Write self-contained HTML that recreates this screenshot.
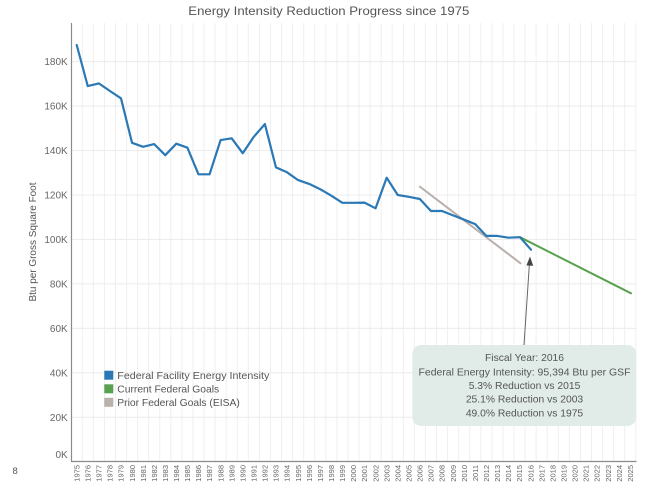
<!DOCTYPE html>
<html>
<head>
<meta charset="utf-8">
<style>
html,body{margin:0;padding:0;background:#fff;}
svg{display:block;font-family:"Liberation Sans",sans-serif;}
</style>
</head>
<body>
<svg width="650" height="485" viewBox="0 0 650 485" xmlns="http://www.w3.org/2000/svg">
<rect width="650" height="485" fill="#fff"/>
<!-- title -->
<text x="188.3" y="15" font-size="12" fill="#555" textLength="281" lengthAdjust="spacingAndGlyphs">Energy Intensity Reduction Progress since 1975</text>

<!-- vertical gridlines -->
<g stroke="#efefef" stroke-width="1">
<line x1="82.27" y1="23" x2="82.27" y2="461"/><line x1="93.34" y1="23" x2="93.34" y2="461"/><line x1="104.41" y1="23" x2="104.41" y2="461"/><line x1="115.48" y1="23" x2="115.48" y2="461"/><line x1="126.55" y1="23" x2="126.55" y2="461"/><line x1="137.62" y1="23" x2="137.62" y2="461"/><line x1="148.69" y1="23" x2="148.69" y2="461"/><line x1="159.76" y1="23" x2="159.76" y2="461"/><line x1="170.83" y1="23" x2="170.83" y2="461"/><line x1="181.9" y1="23" x2="181.9" y2="461"/><line x1="192.97" y1="23" x2="192.97" y2="461"/><line x1="204.04" y1="23" x2="204.04" y2="461"/><line x1="215.11" y1="23" x2="215.11" y2="461"/><line x1="226.18" y1="23" x2="226.18" y2="461"/><line x1="237.25" y1="23" x2="237.25" y2="461"/><line x1="248.32" y1="23" x2="248.32" y2="461"/><line x1="259.39" y1="23" x2="259.39" y2="461"/><line x1="270.46" y1="23" x2="270.46" y2="461"/><line x1="281.53" y1="23" x2="281.53" y2="461"/><line x1="292.6" y1="23" x2="292.6" y2="461"/><line x1="303.67" y1="23" x2="303.67" y2="461"/><line x1="314.74" y1="23" x2="314.74" y2="461"/><line x1="325.81" y1="23" x2="325.81" y2="461"/><line x1="336.88" y1="23" x2="336.88" y2="461"/><line x1="347.95" y1="23" x2="347.95" y2="461"/><line x1="359.02" y1="23" x2="359.02" y2="461"/><line x1="370.09" y1="23" x2="370.09" y2="461"/><line x1="381.16" y1="23" x2="381.16" y2="461"/><line x1="392.23" y1="23" x2="392.23" y2="461"/><line x1="403.3" y1="23" x2="403.3" y2="461"/><line x1="414.37" y1="23" x2="414.37" y2="461"/><line x1="425.44" y1="23" x2="425.44" y2="461"/><line x1="436.51" y1="23" x2="436.51" y2="461"/><line x1="447.58" y1="23" x2="447.58" y2="461"/><line x1="458.65" y1="23" x2="458.65" y2="461"/><line x1="469.72" y1="23" x2="469.72" y2="461"/><line x1="480.79" y1="23" x2="480.79" y2="461"/><line x1="491.86" y1="23" x2="491.86" y2="461"/><line x1="502.93" y1="23" x2="502.93" y2="461"/><line x1="514" y1="23" x2="514" y2="461"/><line x1="525.07" y1="23" x2="525.07" y2="461"/><line x1="536.14" y1="23" x2="536.14" y2="461"/><line x1="547.21" y1="23" x2="547.21" y2="461"/><line x1="558.28" y1="23" x2="558.28" y2="461"/><line x1="569.35" y1="23" x2="569.35" y2="461"/><line x1="580.42" y1="23" x2="580.42" y2="461"/><line x1="591.49" y1="23" x2="591.49" y2="461"/><line x1="602.56" y1="23" x2="602.56" y2="461"/><line x1="613.63" y1="23" x2="613.63" y2="461"/><line x1="624.7" y1="23" x2="624.7" y2="461"/><line x1="635.77" y1="23" x2="635.77" y2="461"/>
</g>
<!-- horizontal gridlines -->
<g stroke="#ececec" stroke-width="1">
<line x1="72" y1="417.25" x2="636" y2="417.25"/>
<line x1="72" y1="372.8" x2="636" y2="372.8"/>
<line x1="72" y1="328.35" x2="636" y2="328.35"/>
<line x1="72" y1="283.9" x2="636" y2="283.9"/>
<line x1="72" y1="239.45" x2="636" y2="239.45"/>
<line x1="72" y1="195" x2="636" y2="195"/>
<line x1="72" y1="150.55" x2="636" y2="150.55"/>
<line x1="72" y1="106.1" x2="636" y2="106.1"/>
<line x1="72" y1="61.65" x2="636" y2="61.65"/>
</g>

<!-- axes -->
<line x1="71.5" y1="23" x2="71.5" y2="462" stroke="#8a8a8a" stroke-width="1.2"/>
<line x1="71" y1="461.5" x2="636.5" y2="461.5" stroke="#8a8a8a" stroke-width="1.2"/>

<!-- y tick labels -->
<g font-size="10" fill="#666" text-anchor="end">
<text x="67.7" y="458">0K</text>
<text x="67.7" y="420.8">20K</text>
<text x="67.7" y="376.4">40K</text>
<text x="67.7" y="331.9">60K</text>
<text x="67.7" y="287.5">80K</text>
<text x="67.7" y="243">100K</text>
<text x="67.7" y="198.6">120K</text>
<text x="67.7" y="154.1">140K</text>
<text x="67.7" y="109.7">160K</text>
<text x="67.7" y="65.2">180K</text>
</g>
<!-- y axis title -->
<text transform="translate(36,242) rotate(-90)" font-size="10" fill="#555" text-anchor="middle" textLength="119" lengthAdjust="spacingAndGlyphs">Btu per Gross Square Foot</text>
<text x="12.5" y="474" font-size="9.5" fill="#555">8</text>

<!-- x tick labels -->
<g font-size="7.5" fill="#666" text-anchor="end">
<text transform="translate(79.4,465) rotate(-90)">1975</text>
<text transform="translate(90.47,465) rotate(-90)">1976</text>
<text transform="translate(101.54,465) rotate(-90)">1977</text>
<text transform="translate(112.61,465) rotate(-90)">1978</text>
<text transform="translate(123.68,465) rotate(-90)">1979</text>
<text transform="translate(134.75,465) rotate(-90)">1980</text>
<text transform="translate(145.82,465) rotate(-90)">1981</text>
<text transform="translate(156.89,465) rotate(-90)">1982</text>
<text transform="translate(167.96,465) rotate(-90)">1983</text>
<text transform="translate(179.03,465) rotate(-90)">1984</text>
<text transform="translate(190.1,465) rotate(-90)">1985</text>
<text transform="translate(201.17,465) rotate(-90)">1986</text>
<text transform="translate(212.24,465) rotate(-90)">1987</text>
<text transform="translate(223.31,465) rotate(-90)">1988</text>
<text transform="translate(234.38,465) rotate(-90)">1989</text>
<text transform="translate(245.45,465) rotate(-90)">1990</text>
<text transform="translate(256.52,465) rotate(-90)">1991</text>
<text transform="translate(267.59,465) rotate(-90)">1992</text>
<text transform="translate(278.66,465) rotate(-90)">1993</text>
<text transform="translate(289.73,465) rotate(-90)">1994</text>
<text transform="translate(300.8,465) rotate(-90)">1995</text>
<text transform="translate(311.87,465) rotate(-90)">1996</text>
<text transform="translate(322.94,465) rotate(-90)">1997</text>
<text transform="translate(334.01,465) rotate(-90)">1998</text>
<text transform="translate(345.08,465) rotate(-90)">1999</text>
<text transform="translate(356.15,465) rotate(-90)">2000</text>
<text transform="translate(367.22,465) rotate(-90)">2001</text>
<text transform="translate(378.29,465) rotate(-90)">2002</text>
<text transform="translate(389.36,465) rotate(-90)">2003</text>
<text transform="translate(400.43,465) rotate(-90)">2004</text>
<text transform="translate(411.5,465) rotate(-90)">2005</text>
<text transform="translate(422.57,465) rotate(-90)">2006</text>
<text transform="translate(433.64,465) rotate(-90)">2007</text>
<text transform="translate(444.71,465) rotate(-90)">2008</text>
<text transform="translate(455.78,465) rotate(-90)">2009</text>
<text transform="translate(466.85,465) rotate(-90)">2010</text>
<text transform="translate(477.92,465) rotate(-90)">2011</text>
<text transform="translate(488.99,465) rotate(-90)">2012</text>
<text transform="translate(500.06,465) rotate(-90)">2013</text>
<text transform="translate(511.13,465) rotate(-90)">2014</text>
<text transform="translate(522.2,465) rotate(-90)">2015</text>
<text transform="translate(533.27,465) rotate(-90)">2016</text>
<text transform="translate(544.34,465) rotate(-90)">2017</text>
<text transform="translate(555.41,465) rotate(-90)">2018</text>
<text transform="translate(566.48,465) rotate(-90)">2019</text>
<text transform="translate(577.55,465) rotate(-90)">2020</text>
<text transform="translate(588.62,465) rotate(-90)">2021</text>
<text transform="translate(599.69,465) rotate(-90)">2022</text>
<text transform="translate(610.76,465) rotate(-90)">2023</text>
<text transform="translate(621.83,465) rotate(-90)">2024</text>
<text transform="translate(632.9,465) rotate(-90)">2025</text>
</g>

<!-- prior goals (gray) -->
<line x1="419.9" y1="186.7" x2="520.5" y2="263.3" stroke="#bab0ac" stroke-width="2" stroke-linecap="round"/>
<!-- current goals (green) -->
<line x1="520" y1="237.2" x2="631" y2="293.3" stroke="#59a14f" stroke-width="2" stroke-linecap="round"/>
<!-- blue series -->
<polyline fill="none" stroke="#2a78b5" stroke-width="2.2" stroke-linejoin="round" stroke-linecap="round"
points="76.7,45 87.77,86.1 98.84,83.4 109.91,91 120.98,98.3 132.05,142.8 143.12,146.8 154.19,144.1 165.26,155.2 176.33,143.7 187.4,147.7 198.47,174.3 209.54,174.3 220.61,140.1 231.68,138.3 242.75,153.2 253.82,136.8 264.89,124.1 275.96,167.4 287.03,172.3 298.1,180.1 309.17,183.9 320.24,189.2 331.31,195.7 342.38,202.8 353.45,202.8 364.52,202.6 375.59,208.3 386.66,177.7 397.73,195 408.8,196.8 419.87,199 430.94,211 442.01,211 453.08,215.4 464.15,219.7 475.22,224.1 486.29,235.9 497.36,235.9 508.43,237.7 520,237.2 531,249.7"/>

<!-- annotation box -->
<rect x="412.3" y="345" width="224" height="81" rx="9" ry="9" fill="#e1ece8"/>
<line x1="524" y1="345" x2="529.4" y2="264" stroke="#666" stroke-width="1"/>
<polygon points="530,256.5 526.4,265.5 533.2,265.8" fill="#444"/>
<g font-size="10.3" fill="#555" text-anchor="middle">
<text x="524.5" y="361">Fiscal Year: 2016</text>
<text x="524.5" y="375.3" textLength="212" lengthAdjust="spacingAndGlyphs">Federal Energy Intensity: 95,394 Btu per GSF</text>
<text x="524.5" y="389">5.3% Reduction vs 2015</text>
<text x="524.5" y="402.7">25.1% Reduction vs 2003</text>
<text x="524.5" y="416.3">49.0% Reduction vs 1975</text>
</g>

<!-- legend -->
<rect x="104.3" y="370.7" width="9" height="9" fill="#2a78b5"/>
<rect x="104.3" y="384.3" width="9" height="9" fill="#59a14f"/>
<rect x="104.3" y="397.8" width="9" height="9" fill="#bab0ac"/>
<g font-size="10.3" fill="#555">
<text x="117.3" y="378.8" textLength="152" lengthAdjust="spacingAndGlyphs">Federal Facility Energy Intensity</text>
<text x="117.3" y="392.5">Current Federal Goals</text>
<text x="117.3" y="406.2">Prior Federal Goals (EISA)</text>
</g>
</svg>
</body>
</html>
